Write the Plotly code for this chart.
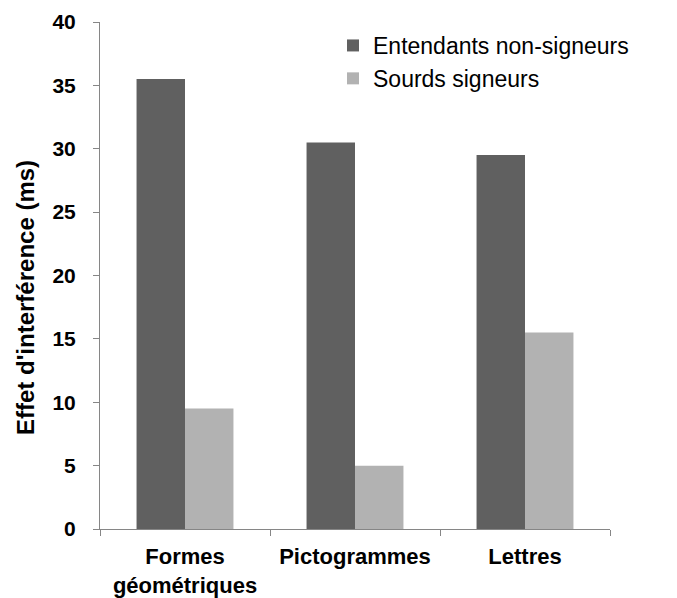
import plotly.graph_objects as go

categories = ["Formes<br>géométriques", "Pictogrammes", "Lettres"]
entendants = [35.5, 30.5, 29.5]
sourds = [9.5, 5.0, 15.5]
series_names = ["Entendants non-signeurs", "Sourds signeurs"]
y_ticks = [0, 5, 10, 15, 20, 25, 30, 35, 40]

FONT = "Liberation Sans, Arial, sans-serif"

fig = go.Figure()
fig.add_trace(go.Bar(x=categories, y=entendants, name=series_names[0], legendgroup="a",
                     marker=dict(color="#606060", line=dict(width=0))))
fig.add_trace(go.Bar(x=categories, y=sourds, name=series_names[1], legendgroup="b",
                     marker=dict(color="#b2b2b2", line=dict(width=0))))

# page has an 8px body margin; figure sized to fit the window
W, H = 669, 590
OFF = 8
ml, mr, mt, mb = 100 - OFF, 677 - 610, 22 - OFF, 598 - 529
pw = W - ml - mr
ph = H - mt - mb

def px_x(page_x):
    return (page_x - 100) / pw

def px_y(page_y):
    return (529 - page_y) / ph

fig.update_layout(
    width=W, height=H,
    margin=dict(l=ml, r=mr, t=mt, b=mb, pad=0, autoexpand=False),
    paper_bgcolor="white", plot_bgcolor="white",
    barmode="group", bargap=0.43, bargroupgap=0,
    font=dict(family=FONT, color="black"),
    legend=dict(x=px_x(333), y=px_y(24), xanchor="left", yanchor="top",
                bgcolor="rgba(0,0,0,0)", font=dict(size=23, family=FONT, color="black"),
                tracegroupgap=0, itemwidth=30),
    showlegend=True,
)
fig.update_xaxes(
    showline=True, linecolor="#868686", linewidth=1, automargin=False,
    ticks="outside", tickson="boundaries", ticklen=6, tickcolor="#868686",
    tickfont=dict(size=22, family=FONT, weight="bold", color="black"),
    ticklabelstandoff=8,
    showgrid=False,
)
fig.update_yaxes(
    range=[0, 40], tickvals=y_ticks, showline=True, linecolor="#868686", linewidth=1,
    automargin=False,
    ticks="outside", ticklen=6, tickcolor="#868686",
    tickfont=dict(size=21, family=FONT, weight="bold", color="black"),
    ticklabelstandoff=13,
    showgrid=False, zeroline=False,
)
fig.add_annotation(
    text="Effet d'interférence (ms)", textangle=-90,
    xref="paper", yref="paper", x=px_x(25), y=px_y(298),
    xanchor="center", yanchor="middle", showarrow=False,
    font=dict(size=24, family=FONT, weight="bold", color="black"),
)
fig.write_html("out.html")
